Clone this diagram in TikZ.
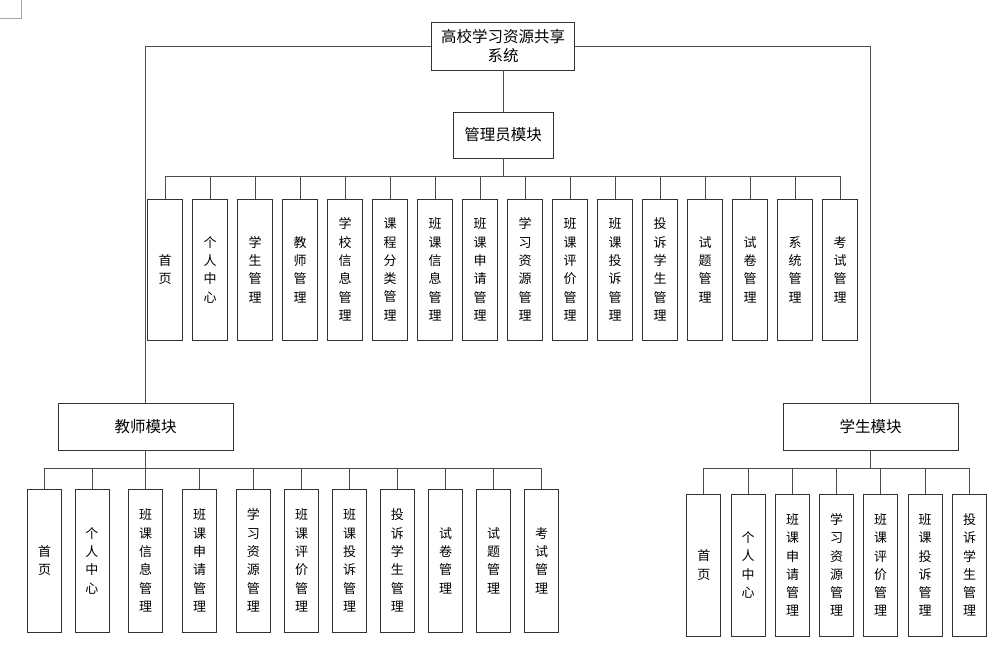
\documentclass[tikz,border=0pt]{standalone}
\usepackage{fontspec}
\newfontfamily\cjk{Noto Sans CJK SC}
\usetikzlibrary{positioning}

\tikzset{
  box/.style={draw=black!80, line width=0.8pt, font=\cjk\fontsize{13pt}{18.3pt}\selectfont, align=center, inner sep=0pt},
  modbox/.style={box, font=\cjk\fontsize{15.5pt}{19pt}\selectfont, minimum width=175pt, minimum height=47pt},
  leaf/.style={box, minimum width=34pt, minimum height=142pt},
  link/.style={draw=black!70, line width=0.8pt},
}

\begin{document}
\begin{tikzpicture}[x=1pt,y=-1pt]
    \useasboundingbox (0,0) rectangle (1008,662);
    \draw[black!35] (0,18) -| (21,0);

    \node[modbox, minimum width=143pt, minimum height=48pt] (sys) at (503,46) {高校学习资源共享\\系统};
    \node[modbox, minimum width=100pt, minimum height=46pt] (adm) at (503,135) {管理员模块};
    \node[modbox] (tch) at (145.5,426.5) {教师模块};
    \node[modbox] (stu) at (870.5,426.5) {学生模块};

    \draw[link] (sys.south) -- (adm.north);
    \draw[link] (sys.west) -| (tch.north);
    \draw[link] (sys.east) -| (stu.north);

    % administrator
    \foreach \t [count=\i] in {{首\\页},{个\\人\\中\\心},{学\\生\\管\\理},{教\\师\\管\\理},
        {学\\校\\信\\息\\管\\理},{课\\程\\分\\类\\管\\理},{班\\课\\信\\息\\管\\理},
        {班\\课\\申\\请\\管\\理},{学\\习\\资\\源\\管\\理},{班\\课\\评\\价\\管\\理},
        {班\\课\\投\\诉\\管\\理},{投\\诉\\学\\生\\管\\理},{试\\题\\管\\理},
        {试\\卷\\管\\理},{系\\统\\管\\理},{考\\试\\管\\理}}
    {
      \node[leaf, minimum width=35pt, minimum height=141pt] (a\i) at ({120+45*\i},269.5) {\t};
      \draw[link] (adm.south) -- ++(0,18) -| (a\i.north);
    }

    % teacher
    \foreach \x/\t [count=\i] in {44.5/{首\\页},91.9/{个\\人\\中\\心},145.7/{班\\课\\信\\息\\管\\理},
        199.6/{班\\课\\申\\请\\管\\理},253.4/{学\\习\\资\\源\\管\\理},301.5/{班\\课\\评\\价\\管\\理},
        349.6/{班\\课\\投\\诉\\管\\理},397.3/{投\\诉\\学\\生\\管\\理},445.5/{试\\卷\\管\\理},
        493.5/{试\\题\\管\\理},541.6/{考\\试\\管\\理}}
    {
      \node[leaf, minimum height=143pt] (t\i) at (\x,560.5) {\t};
      \draw[link] (tch.south) -- ++(0,18) -| (t\i.north);
    }

    % student
    \foreach \x/\t [count=\i] in {703.8/{首\\页},748.2/{个\\人\\中\\心},792.6/{班\\课\\申\\请\\管\\理},
        836.7/{学\\习\\资\\源\\管\\理},880.7/{班\\课\\评\\价\\管\\理},925.1/{班\\课\\投\\诉\\管\\理},
        969.5/{投\\诉\\学\\生\\管\\理}}
    {
      \node[leaf] (s\i) at (\x,565) {\t};
      \draw[link] (stu.south) -- ++(0,18) -| (s\i.north);
    }

\end{tikzpicture}
\end{document}
